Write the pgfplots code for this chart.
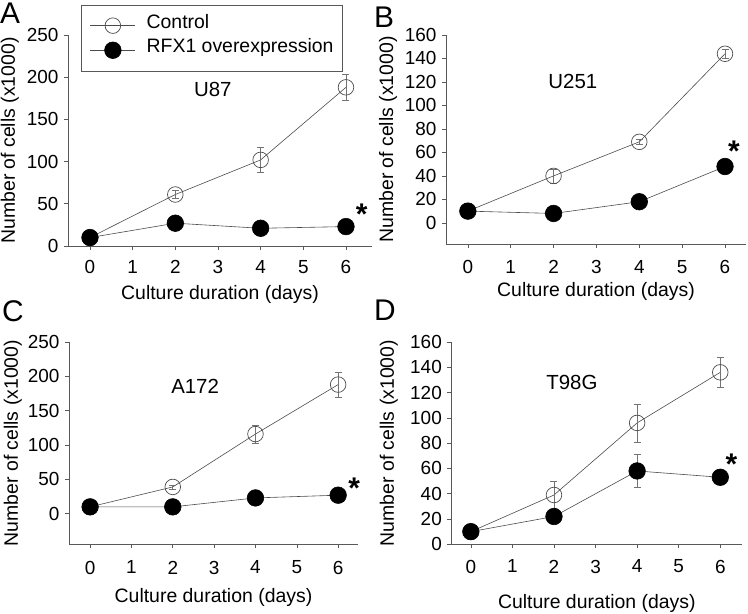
\documentclass[border=0pt]{standalone}
\usepackage{fontspec}
\setmainfont{Liberation Sans}
\usepackage{pgfplots}
\pgfplotsset{compat=1.18}

\newcommand{\tickfont}{\fontsize{19}{22}\selectfont}
\newcommand{\labfont}{\fontsize{19.5}{23}\selectfont}
\newcommand{\ttlfont}{\fontsize{20.5}{24}\selectfont}
\newcommand{\letfont}{\fontsize{30}{34}\selectfont}
\newcommand{\astfont}{\fontsize{30}{34}\selectfont\bfseries}

\pgfplotsset{
  panel/.style={
    scale only axis, anchor=south west, clip=false,
    axis x line*=bottom, axis y line*=left,
    axis line style={black!65, line width=0.6bp, -},
    tick style={black!65, line width=0.6bp},
    tick align=outside, major tick length=4bp,
    xtick={0,...,6},
    tick label style={font=\tickfont},
    yticklabel style={xshift=-2bp},
    /pgf/number format/assume math mode=true,
    xlabel={Culture duration (days)},
    ylabel={Number of cells (x1000)},
    label style={font=\labfont},
    xlabel style={at={(axis description cs:0.5,0)}, anchor=center},
    ylabel style={anchor=center},
    legend image code/.code={
      \draw[mark repeat=2,mark phase=2] plot coordinates {(0bp,0bp) (22.5bp,0bp) (45bp,0bp)};
    },
  },
  ctrl/.style={black!70, line width=0.6bp, mark=o,
    mark options={black!70, line width=0.7bp, mark size=7.8bp, solid},
    error bars/.cd, y dir=both, y explicit, error mark=-,
    error bar style={black!55, line width=0.6bp},
    error mark options={black!55, line width=0.6bp, mark size=3.5bp, rotate=90}},
  rfx/.style={black!70, line width=0.6bp, mark=*,
    mark options={black, fill=black, mark size=8.3bp, solid},
    error bars/.cd, y dir=both, y explicit, error mark=-,
    error bar style={black!55, line width=0.6bp},
    error mark options={black!55, line width=0.6bp, mark size=3.5bp, rotate=90}},
}

\begin{document}
\begin{tikzpicture}
\useasboundingbox (0,0) rectangle (748bp,614bp);

% Panel A
\begin{axis}[panel, at={(68bp,368bp)}, width=304bp, height=211bp,
  xmin=-0.515, xmax=6.61, ymin=0, ymax=250, ytick={0,50,...,250},
  xticklabel style={yshift=-7bp},
  xlabel style={yshift=-48bp}, ylabel style={at={(axis description cs:-0.191,0.5)}},
  legend style={at={(axis description cs:0.042,1.142)}, anchor=north west,
    draw=black!65, line width=0.6bp, font=\labfont, inner xsep=9bp, inner ysep=12.5bp,
    nodes={inner sep=0pt, text height=0.75em, text depth=0.25em},
    row sep=8.5bp,
    /tikz/every odd column/.append style={column sep=11bp}},
  legend cell align=left]
\addplot+[ctrl] coordinates {(0,10) +- (0,0) (2,61) +- (0,5) (4,102) +- (0,15) (6,188) +- (0,15)};
\addlegendentry{Control}
\addplot+[rfx] coordinates {(0,10) +- (0,0) (2,27) +- (0,0) (4,21) +- (0,0) (6,23) +- (0,0)};
\addlegendentry{RFX1 overexpression}
\node[font=\ttlfont, anchor=center] at (axis cs:2.88,185.5) {U87};
\node[font=\astfont, anchor=center, yshift=-6bp] at (axis cs:6.37,45) {*};
\end{axis}

% Panel B
\begin{axis}[panel, at={(446bp,370bp)}, width=300bp, height=209bp,
  xmin=-0.51, xmax=6.49, ymin=-18, ymax=160, ytick={0,20,...,160},
  xticklabel style={yshift=-9bp},
  xlabel style={yshift=-47bp}, ylabel style={at={(axis description cs:-0.193,0.5)}}]
\addplot+[ctrl] coordinates {(0,10) +- (0,0) (2,40) +- (0,6) (4,69) +- (0,2) (6,144) +- (0,4)};
\addplot+[rfx] coordinates {(0,10) +- (0,0) (2,8) +- (0,0) (4,18) +- (0,0) (6,48) +- (0,0)};
\node[font=\ttlfont, anchor=center] at (axis cs:2.45,120) {U251};
\node[font=\astfont, anchor=center, yshift=-6bp] at (axis cs:6.21,66) {*};
\end{axis}

% Panel C
\begin{axis}[panel, at={(69bp,69.7bp)}, width=289bp, height=202.3bp,
  xmin=-0.51, xmax=6.48, ymin=-44.5, ymax=250, ytick={0,50,...,250},
  xticklabel style={yshift=-9bp},
  xlabel style={yshift=-53bp}, ylabel style={at={(axis description cs:-0.194,0.5)}}]
\addplot+[ctrl] coordinates {(0,10) +- (0,0) (2,39) +- (0,3) (4,116) +- (0,13) (6,188) +- (0,18)};
\addplot+[rfx] coordinates {(0,10) +- (0,0) (2,10) +- (0,0) (4,23) +- (0,0) (6,27) +- (0,0)};
\node[font=\ttlfont, anchor=center] at (axis cs:2.54,185.4) {A172};
\node[font=\astfont, anchor=center, yshift=-6bp] at (axis cs:6.39,46) {*};
\end{axis}

% Panel D
\begin{axis}[panel, at={(451.3bp,69.7bp)}, width=291bp, height=202.3bp,
  xmin=-0.47, xmax=6.53, ymin=0, ymax=160, ytick={0,20,...,160},
  xticklabel style={yshift=-8bp},
  xlabel style={yshift=-59bp}, ylabel style={at={(axis description cs:-0.215,0.5)}}]
\addplot+[ctrl] coordinates {(0,10) +- (0,0) (2,39) +- (0,11) (4,96) +- (0,15) (6,136) +- (0,12)};
\addplot+[rfx] coordinates {(0,10) +- (0,0) (2,22) +- (0,0) (4,58) +- (0,13) (6,53) +- (0,0)};
\node[font=\ttlfont, anchor=center] at (axis cs:2.43,128) {T98G};
\node[font=\astfont, anchor=center, yshift=-6bp] at (axis cs:6.27,67.7) {*};
\end{axis}

% Panel letters
\node[font=\letfont, anchor=north west, inner sep=0pt] at (0bp,611bp) {A};
\node[font=\letfont, anchor=north west, inner sep=0pt] at (374bp,607bp) {B};
\node[font=\letfont, anchor=north west, inner sep=0pt] at (2bp,314bp) {C};
\node[font=\letfont, anchor=north west, inner sep=0pt] at (374bp,314bp) {D};
\end{tikzpicture}
\end{document}
